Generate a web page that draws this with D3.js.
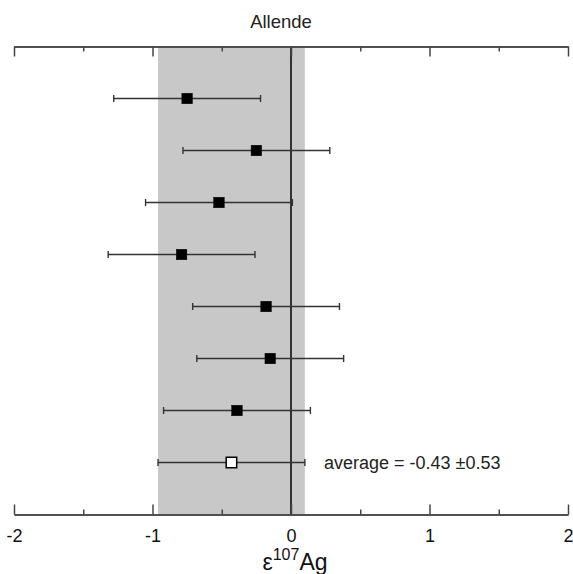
<!DOCTYPE html>
<html>
<head>
<meta charset="utf-8">
<script src="https://cdn.jsdelivr.net/npm/d3@7"></script>
<style>
  body { margin: 0; background: #fff; }
  text { font-family: "Liberation Sans", Arial, sans-serif; }
</style>
</head>
<body>
<svg width="573" height="574"></svg>
<script>
// measurements, top to bottom; the last one is the average
const rows = [1, 2, 3, 4, 5, 6, 7, 8];
const values = [-0.75, -0.25, -0.52, -0.79, -0.18, -0.15, -0.39, -0.43];
const errors = [0.53, 0.53, 0.53, 0.53, 0.53, 0.53, 0.53, 0.53];
const isAverage = [false, false, false, false, false, false, false, true];
const majorTicks = [-2, -1, 0, 1, 2];
const minorTicks = [-1.5, -0.5, 0.5, 1.5];
const avgValue = -0.43;
const avgError = 0.53;

const svg = d3.select('svg');

const x = d3.scaleLinear().domain([-2, 2]).range([14, 568]);
const y = d3.scaleLinear().domain([0, 9]).range([46.5, 514.5]);

const yTop = y.range()[0];
const yBottom = y.range()[1];

// shaded band = average +/- error
svg.append('rect')
  .attr('x', x(avgValue - avgError))
  .attr('y', yTop)
  .attr('width', x(avgValue + avgError) - x(avgValue - avgError))
  .attr('height', yBottom - yTop)
  .attr('fill', '#c8c8c8');

// zero line
svg.append('line')
  .attr('x1', x(0)).attr('x2', x(0))
  .attr('y1', yTop).attr('y2', yBottom)
  .attr('stroke', '#000')
  .attr('stroke-width', 1.5);

const data = rows.map((r, i) => ({ row: r, v: values[i], e: errors[i], avg: isAverage[i] }));

const pts = svg.append('g').selectAll('g')
  .data(data)
  .join('g');

pts.append('line')
  .attr('x1', d => x(d.v - d.e)).attr('x2', d => x(d.v + d.e))
  .attr('y1', d => y(d.row)).attr('y2', d => y(d.row))
  .attr('stroke', '#333').attr('stroke-width', 1.4);

[-1, 1].forEach(s => {
  pts.append('line')
    .attr('x1', d => x(d.v + s * d.e)).attr('x2', d => x(d.v + s * d.e))
    .attr('y1', d => y(d.row) - 3.5).attr('y2', d => y(d.row) + 3.5)
    .attr('stroke', '#333').attr('stroke-width', 1.4);
});

const ms = 10.5;
pts.append('rect')
  .attr('x', d => x(d.v) - ms / 2)
  .attr('y', d => y(d.row) - ms / 2)
  .attr('width', ms).attr('height', ms)
  .attr('fill', d => d.avg ? '#fff' : '#000')
  .attr('stroke', '#000')
  .attr('stroke-width', d => d.avg ? 1.5 : 0.5);

// axes, ticks pointing inward
function styleAxis(g) {
  g.selectAll('path, line').attr('stroke', '#444').attr('stroke-width', 1.5);
  g.selectAll('text').attr('font-size', 18).attr('fill', '#111')
    .attr('font-family', '"Liberation Sans", Arial, sans-serif');
}

svg.append('g')
  .attr('transform', `translate(0,${yBottom})`)
  .call(d3.axisBottom(x).tickValues(majorTicks).tickSizeInner(-10).tickSizeOuter(0)
    .tickPadding(15).tickFormat(d => String(d)))
  .call(styleAxis);

svg.append('g')
  .attr('transform', `translate(0,${yBottom})`)
  .call(d3.axisBottom(x).tickValues(minorTicks).tickSizeInner(-5).tickSizeOuter(0).tickFormat(''))
  .call(styleAxis);

svg.append('g')
  .attr('transform', `translate(0,${yTop})`)
  .call(d3.axisTop(x).tickValues(majorTicks).tickSizeInner(-10).tickSizeOuter(0).tickFormat(''))
  .call(styleAxis);

svg.append('g')
  .attr('transform', `translate(0,${yTop})`)
  .call(d3.axisTop(x).tickValues(minorTicks).tickSizeInner(-5).tickSizeOuter(0).tickFormat(''))
  .call(styleAxis);

// title
svg.append('text')
  .attr('x', x(0) - 10)
  .attr('y', 28)
  .attr('text-anchor', 'middle')
  .attr('font-size', 18.5)
  .attr('fill', '#222')
  .text('Allende');

// average annotation
svg.append('text')
  .attr('x', 324)
  .attr('y', y(8) + 6.5)
  .attr('font-size', 18)
  .attr('fill', '#222')
  .text('average = -0.43 \u00b10.53');

// x label
const xl = svg.append('text')
  .attr('x', x(0) + 4)
  .attr('y', 570)
  .attr('text-anchor', 'middle')
  .attr('font-size', 23)
  .attr('fill', '#111');
xl.append('tspan').text('\u03b5');
xl.append('tspan').attr('font-size', 16).attr('dy', -10).text('107');
xl.append('tspan').attr('dy', 10).text('Ag');
</script>
</body>
</html>
